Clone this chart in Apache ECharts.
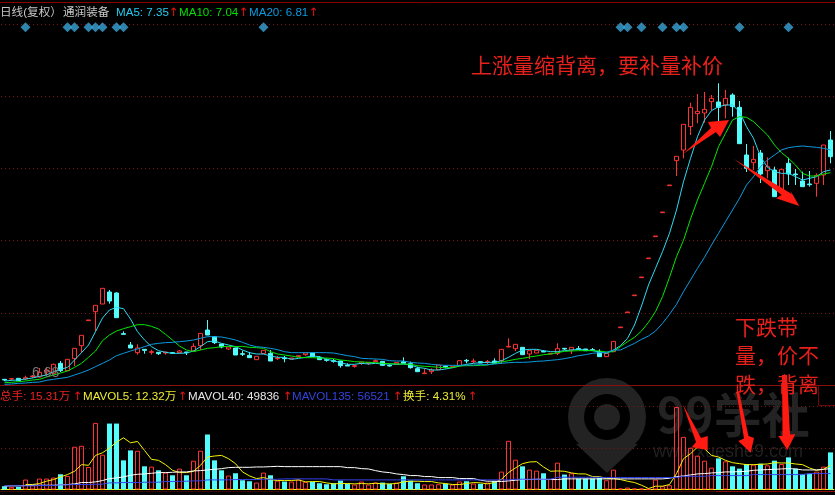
<!DOCTYPE html>
<html><head><meta charset="utf-8">
<style>html,body{margin:0;padding:0;background:#000}#c{width:835px;height:495px}</style>
<script src="https://cdn.jsdelivr.net/npm/echarts@6/dist/echarts.min.js"></script>
</head><body><div id="c"></div>
<script>
// [open, close, low, high]
const candles = [
[.17,.15,.12,.18],[.18,.19,.12,.19],[.20,.13,.13,.20],[.18,.22,.15,.28],[.255,.27,.21,.30],[.24,.38,.22,.51],[.39,.45,.30,.53],[.35,.62,.33,.64],[.65,.43,.39,.72],[.43,.77,.43,.77],
[.79,1.10,.57,1.10],[1.18,1.49,.96,1.49],[1.93,1.95,1.93,1.95],[2.20,2.39,1.60,2.39],[2.43,2.90,2.43,2.90],[2.79,2.52,2.44,2.85],[2.76,2.02,2.02,2.78],[1.54,1.52,1.52,1.61],[1.20,1.11,1.11,1.29],[.97,1.11,.91,1.22],
[1.07,1.04,.94,1.07],[.98,1.00,.91,1.06],[.98,.94,.90,.98],[.96,.99,.91,.99],[.97,.95,.95,.99],[.97,1.02,.97,1.05],[.99,.97,.90,.99],[1.02,1.16,1.02,1.25],[1.18,1.55,1.05,1.55],[1.65,1.50,1.50,1.95],
[1.45,1.27,1.23,1.45],[1.23,1.14,1.10,1.23],[1.08,1.14,1.05,1.14],[1.11,.90,.90,1.11],[.94,.92,.87,1.03],[.89,.82,.82,.99],[.76,.86,.76,.86],[.94,1.04,.94,1.04],[.95,.72,.72,1.05],[.79,.81,.75,.87],
[.81,.79,.68,.87],[.78,.81,.78,.81],[.85,.88,.85,.88],[.91,.96,.88,.96],[.96,.85,.85,.96],[.83,.76,.76,.87],[.76,.74,.70,.80],[.73,.71,.67,.78],[.72,.58,.52,.72],[.59,.57,.57,.65],
[.56,.58,.52,.61],[.65,.69,.60,.69],[.65,.68,.60,.68],[.70,.73,.70,.77],[.71,.59,.59,.71],[.59,.57,.55,.62],[.63,.68,.63,.68],[.70,.65,.65,.83],[.64,.52,.49,.70],[.49,.40,.40,.55],
[.34,.36,.34,.50],[.40,.45,.33,.50],[.46,.60,.46,.60],[.56,.54,.50,.59],[.53,.55,.53,.55],[.58,.73,.58,.73],[.74,.72,.65,.78],[.70,.72,.65,.79],[.70,.66,.66,.70],[.68,.70,.63,.75],
[.72,.65,.65,.80],[.73,1.07,.63,1.07],[1.14,1.16,1.14,1.40],[1.09,1.22,1.02,1.22],[1.13,.91,.91,1.13],[.93,1.03,.78,1.03],[.96,1.04,.96,1.04],[1.01,.99,.99,1.05],[.93,.95,.93,.95],[.95,1.09,.90,1.25],
[1.10,1.08,1.05,1.10],[1.05,1.13,.93,1.13],[1.09,1.07,1.07,1.17],[1.08,1.03,1.03,1.08],[1.06,1.04,1.04,1.11],[1.00,.85,.85,1.07],[.85,.95,.85,.95],[1.00,1.31,1.00,1.31],[1.72,1.74,1.72,1.74],[2.17,2.19,2.17,2.19],
[2.68,2.70,2.68,2.70],[3.22,3.24,3.22,3.24],[3.79,3.81,3.79,3.81],[4.45,4.47,4.45,4.47],[5.17,5.19,5.17,5.19],[5.98,6.00,5.98,6.00],[6.73,6.86,6.27,6.86],[7.05,7.82,6.80,7.82],[7.75,8.33,7.50,8.47],[8.14,8.21,7.85,8.73],
[8.16,8.27,7.87,8.79],[8.50,8.60,8.23,8.70],[8.49,8.33,7.90,9.05],[8.40,8.60,8.00,8.85],[8.70,8.35,8.05,8.75],[8.33,7.24,7.24,8.52],[6.90,6.50,6.39,7.23],[6.67,6.77,6.45,7.17],[6.96,6.33,6.06,7.05],[6.43,6.55,6.20,6.83],
[6.45,5.65,5.65,6.55],[5.80,6.47,5.80,6.47],[6.65,6.33,6.00,6.82],[6.33,6.31,6.00,6.48],[6.12,5.95,5.95,6.40],[6.03,6.01,5.95,6.42],[6.05,6.29,5.65,6.35],[6.30,7.20,6.00,7.20],[7.35,6.85,6.65,7.62]
];
const ma5 = [
.12,.14,.15,.18,.21,.26,.30,.40,.47,.53,
.75,.97,1.2,1.6,2.01,2.25,2.33,2.29,1.98,1.6,
1.35,1.15,1.03,.98,.95,.95,.96,1.02,1.15,1.3,
1.32,1.25,1.2,1.15,1.05,.97,.93,.93,.87,.83,
.83,.77,.80,.83,.87,.85,.77,.73,.67,.62,
.62,.65,.63,.65,.63,.63,.62,.63,.60,.53,
.50,.45,.45,.48,.52,.57,.62,.65,.67,.68,
.68,.73,.83,.95,1.05,1.07,1.07,1.03,1.0,1.0,
1.03,1.05,1.07,1.05,1.03,.99,.95,1.05,1.18,1.40,
1.80,2.37,3.0,3.50,4.0,4.55,5.25,6.10,6.80,7.45,
7.95,8.23,8.35,8.40,8.40,8.20,7.75,7.40,6.85,6.53,
6.40,6.35,6.35,6.25,6.15,6.20,6.25,6.40,6.45];
const ma10 = [
.07,.08,.10,.12,.15,.17,.24,.30,.36,.42,
.53,.65,.83,1.02,1.33,1.50,1.62,1.69,1.75,1.81,
1.81,1.76,1.68,1.52,1.35,1.17,1.05,1.0,1.05,1.10,
1.12,1.15,1.16,1.15,1.16,1.13,1.12,1.10,1.0,.93,
.90,.87,.83,.82,.82,.81,.81,.79,.75,.73,
.70,.69,.68,.67,.65,.64,.63,.63,.62,.58,
.56,.55,.53,.52,.52,.57,.58,.58,.59,.60,
.65,.69,.73,.77,.80,.84,.87,.91,.93,.97,
1.01,1.02,1.03,1.03,1.03,1.02,.99,1.0,1.15,1.30,
1.43,1.62,1.88,2.20,2.65,3.23,3.85,4.34,4.98,5.55,
6.05,6.55,7.15,7.55,7.95,8.05,8.03,7.90,7.70,7.50,
7.20,6.97,6.80,6.60,6.35,6.27,6.27,6.33,6.37];
const ma20 = [
.02,.03,.05,.06,.08,.09,.14,.17,.20,.23,
.30,.37,.45,.55,.65,.75,.88,.95,1.02,1.08,
1.15,1.22,1.25,1.27,1.28,1.30,1.32,1.35,1.40,1.45,
1.45,1.44,1.40,1.35,1.28,1.20,1.15,1.13,1.10,1.06,
1.0,.97,.97,.97,.97,.97,.97,.96,.92,.88,
.85,.80,.79,.78,.77,.73,.72,.72,.68,.66,
.65,.62,.60,.59,.59,.59,.60,.60,.61,.61,
.63,.65,.67,.68,.68,.69,.71,.72,.74,.76,
.79,.83,.88,.91,.95,.97,.98,1.05,1.05,1.15,
1.25,1.37,1.47,1.62,1.85,2.12,2.42,2.80,3.15,3.50,
3.83,4.20,4.55,4.90,5.25,5.60,6.0,6.25,6.55,6.75,
6.90,7.05,7.12,7.15,7.17,7.15,7.13,7.10,7.05];
const volume = [
1.33,1.07,1.07,4.0,1.73,4.4,4.4,4.8,6.13,5.47,
17.2,17.6,9.07,26.8,14.0,26.53,26.53,11.73,15.73,15.6,
9.33,9.2,7.73,6.8,5.73,8.4,5.73,11.6,15.6,22.13,
11.73,7.73,5.6,6.53,3.73,3.33,2.8,6.8,5.73,3.6,
3.2,3.2,4.0,3.07,3.07,2.53,2.13,2.53,3.6,2.4,
2.0,3.2,2.0,2.8,2.8,2.27,2.8,5.33,3.6,2.53,
2.0,2.0,2.13,2.4,2.0,3.2,3.33,2.4,2.27,2.8,
3.47,7.2,19.6,12.0,9.33,8.0,7.6,6.53,4.27,10.8,
6.0,6.53,4.4,4.4,4.4,4.67,3.73,8.0,.4,.8,
.4,.4,.27,4.0,1.33,1.73,33.2,21.2,16.8,13.6,
11.6,8.8,12.53,11.33,9.33,8.4,10.27,10.0,10.4,9.73,
11.6,10.27,12.93,8.4,6.27,6.4,7.2,9.2,14.93];
const mavol5 = [
null,null,null,2.0,2.0,2.4,3.33,4.0,5.07,6.0,
7.33,10.0,9.73,13.73,14.8,16.67,19.07,20.8,18.8,19.33,
15.73,12.13,11.73,10.0,7.73,6.8,6.8,7.33,9.73,13.07,
13.47,13.73,12.4,10.4,7.07,5.47,4.4,4.8,4.0,3.6,
3.6,3.6,3.87,3.07,3.2,3.2,2.67,2.27,2.4,2.4,
2.27,2.4,2.27,2.53,2.27,2.27,2.4,3.07,3.33,3.33,
3.2,3.2,2.67,2.4,2.0,2.0,2.4,2.8,2.67,2.27,
2.8,4.13,6.8,8.67,10.4,11.07,11.2,9.07,7.33,7.47,
7.33,6.67,6.27,6.27,5.2,5.2,4.4,4.4,4.0,3.33,
2.8,1.73,.4,1.33,1.33,2.0,6.4,12.4,14.4,17.07,
16.4,13.73,13.07,11.73,10.8,10.4,10.0,10.0,10.13,10.27,
10.8,10.67,10.67,10.27,10.0,8.67,7.73,8.13,9.73];
const mavol40 = [
1.33,1.47,1.47,1.6,1.73,1.73,1.73,1.73,1.87,2.0,
2.27,2.8,2.8,3.07,3.6,4.4,4.67,5.07,5.73,6.13,
6.27,6.53,6.8,6.8,6.93,7.07,7.07,7.47,7.6,7.87,
8.13,8.4,8.8,8.93,8.93,8.93,9.07,9.07,9.2,9.33,
9.2,9.2,9.2,9.2,9.2,9.2,9.2,9.2,9.2,8.8,
8.8,8.4,8.27,7.6,7.07,6.8,6.27,6.0,5.6,5.6,
5.2,5.2,4.8,4.8,4.8,4.4,4.4,4.4,3.73,3.33,
3.33,3.2,3.47,3.73,4.0,4.0,4.13,4.13,4.0,4.0,
4.27,4.27,4.27,4.27,4.27,4.27,4.27,4.27,4.27,4.27,
4.27,4.27,4.27,4.27,4.27,4.53,5.2,5.47,5.87,6.27,
6.4,6.67,6.8,7.07,7.07,7.2,7.33,7.73,7.87,8.0,
8.13,8.27,8.4,8.27,7.87,7.87,7.87,8.13,8.4];
const mavol135 = [
1.47,1.47,1.47,1.47,1.47,1.6,1.6,1.6,1.87,1.87,
2.0,2.0,2.0,2.13,2.13,2.67,2.67,2.8,2.8,2.8,
2.93,2.93,2.93,3.2,3.2,3.33,3.33,3.47,3.47,3.87,
3.87,3.87,3.87,4.0,4.0,4.0,4.0,4.13,4.13,4.13,
4.27,4.27,4.27,4.27,4.27,4.27,4.27,3.87,3.87,3.87,
3.87,3.87,3.87,3.87,3.87,3.87,3.87,3.87,3.87,3.87,
3.87,3.87,3.87,3.87,3.87,3.87,3.87,3.87,3.87,3.87,
3.87,3.87,3.87,4.13,4.13,4.13,4.13,4.13,4.13,4.93,
4.93,4.93,4.93,4.93,4.93,4.93,4.8,4.8,4.8,4.8,
4.8,4.8,4.8,4.8,4.8,4.8,4.8,5.33,5.33,5.33,
5.33,5.6,5.6,5.6,5.6,5.6,5.6,6.0,6.0,6.0,
6.0,6.0,6.0,6.0,6.0,6.4,6.4,6.4,6.4];
const signalIdx = [3,9,10,12,13,14,16,17,37,88,89,91,94,96,97,105,112];
const signalPrice = 10.73;
const categories = candles.map((_, i) => 'D' + (i + 1));

const RED = '#ff3333', CYAN = '#54fcfc', GRID = '#7a1414', FONT = '"Liberation Sans","Noto Sans CJK SC",sans-serif';
const headTop = [
  ['日线(复权）', 0, '#c8c8c8'], ['通润装备', 63, '#c8c8c8'],
  ['MA5: 7.35', 116, '#22ccee'], ['↑', 169, '#ee1111'],
  ['MA10: 7.04', 179, '#00e000'], ['↑', 239, '#ee1111'],
  ['MA20: 6.81', 249, '#0a9be0'], ['↑', 309, '#ee1111']
];
const headVol = [
  ['总手: 15.31万', 0, '#ee2222'], ['↑', 73, '#ee1111'],
  ['MAVOL5: 12.32万', 83, '#eeee33'], ['↑', 178, '#ee1111'],
  ['MAVOL40: 49836', 188, '#e8e8e8'], ['↑', 283, '#ee1111'],
  ['MAVOL135: 56521', 292, '#3344dd'], ['↑', 393, '#ee1111'],
  ['换手: 4.31%', 403, '#eeee33'], ['↑', 468, '#ee1111']
];
const notes = [
  ['上涨量缩背离，要补量补价', 471, 67], ['下跌带', 735, 329], ['量，价不', 735, 357], ['跌，背离', 735, 386]
];
const arrows = [
  [[683,154],[711,128],[708,122],[729,120],[720,137],[716,132]],
  [[734,159],[791.7,194],[790,190],[799.3,206],[776,198.3],[781.7,195]],
  [[682.7,404],[701,438],[707.7,436],[707.7,450],[691.7,447.3],[696,442]],
  [[736.5,392],[739,392],[748.5,436],[754,438],[750.7,452.7],[738.3,441],[744,438.5]],
  [[782,375],[787,375],[790,434.5],[795.3,434.3],[787.3,450],[778.3,436],[782.5,436]]
];
const txt = (t, x, y, c, size, z) => ({type:'text', silent:true, z:z||50, style:{text:t, x, y, fill:c,
  font:`${size||11.6}px ${t === '↑' ? '"DejaVu Sans"' : FONT}`, verticalAlign:'middle', align:'left'}});
const seg = (x1, y1, x2, y2, c) => ({type:'line', silent:true, z:40, shape:{x1, y1, x2, y2}, style:{stroke:c, lineWidth:1}});
const WM = '#232323';
const graphic = [
  // watermark, under the marks
  {type:'circle', silent:true, z:-5, shape:{cx:607, cy:417, r:31}, style:{fill:'none', stroke:WM, lineWidth:16}},
  {type:'circle', silent:true, z:-5, shape:{cx:607, cy:417, r:13}, style:{fill:WM}},
  {type:'polygon', silent:true, z:-5, shape:{points:[[576,444],[638,444],[607,473]]}, style:{fill:WM}},
  {type:'text', silent:true, z:-5, style:{text:'99学社', x:657, y:415, fill:WM, font:'bold 48px "Noto Sans CJK SC"', verticalAlign:'middle'}},
  {type:'text', silent:true, z:-5, style:{text:'www.xueshe9.com', x:653, y:452, fill:'#202020', font:'18px "Liberation Sans"', verticalAlign:'middle'}},
  seg(0, 2.5, 835, 2.5, '#8a0000'),
  seg(0, 385.5, 835, 385.5, '#8a1010'),
  seg(0, 491.5, 835, 491.5, '#3a0606'),
  seg(716, 491.5, 835, 491.5, '#8a1010'),
  seg(818.5, 386, 818.5, 405.5, '#6a0808'),
  seg(818.5, 405.5, 835, 405.5, '#6a0808'),
  txt('6.68', 32, 373, '#7a7a7a', 14),
  ...headTop.map(h => txt(h[0], h[1], 12.5, h[2])),
  ...headVol.map(h => txt(h[0], h[1], 396.5, h[2])),
  ...arrows.map(a => ({type:'polygon', silent:true, z:45, shape:{points:a}, style:{fill:'#ff1a12'}})),
  ...notes.map(n => txt(n[0], n[1], n[2], '#e6201a', 21, 60))
];
const maLine = (name, data, color, x, y) => ({name, type:'line', data, xAxisIndex:x, yAxisIndex:y, symbol:'none', z:5,
  lineStyle:{color, width:1}, itemStyle:{color}, connectNulls:false});
const isUp = c => c[1] >= c[0];
const chart = echarts.init(document.getElementById('c'), null, {renderer:'canvas'});
chart.setOption({
  backgroundColor:'#000', animation:false,
  grid:[{left:1, width:833, top:24, height:361}, {left:1, width:833, top:406, height:83.5}],
  xAxis:[
    {type:'category', data:categories, gridIndex:0, axisLine:{show:false}, axisTick:{show:false}, axisLabel:{show:false}, splitLine:{show:false}},
    {type:'category', data:categories, gridIndex:1, axisLine:{show:true, lineStyle:{color:'#ffff00', width:1}}, axisTick:{show:false}, axisLabel:{show:false}, splitLine:{show:false}}
  ],
  yAxis:[
    {type:'value', gridIndex:0, min:0, max:10.83, interval:2.166, axisLine:{show:false}, axisTick:{show:false}, axisLabel:{show:false},
     splitLine:{show:true, lineStyle:{color:GRID, type:[1,3], width:1}}},
    {type:'value', gridIndex:1, min:0, max:33.6, interval:16.8, axisLine:{show:false}, axisTick:{show:false}, axisLabel:{show:false},
     splitLine:{show:true, lineStyle:{color:GRID, type:[1,3], width:1}}}
  ],
  series:[
    {name:'K', type:'candlestick', data:candles, xAxisIndex:0, yAxisIndex:0, barWidth:5, z:3,
     itemStyle:{color:'#000', color0:CYAN, borderColor:RED, borderColor0:CYAN, borderWidth:1}},
    maLine('MA5', ma5, '#2adcf4', 0, 0), maLine('MA10', ma10, '#00e800', 0, 0), maLine('MA20', ma20, '#0a9be0', 0, 0),
    {name:'signal', type:'scatter', data:signalIdx.map(i => [i, signalPrice]), xAxisIndex:0, yAxisIndex:0, symbol:'diamond', symbolSize:10, z:4,
     itemStyle:{color:'#3aa5d8'}},
    {name:'总手', type:'bar', xAxisIndex:1, yAxisIndex:1, barWidth:5, z:3,
     data:volume.map((v, i) => ({value:v, itemStyle: isUp(candles[i])
       ? {color:'rgba(0,0,0,0)', borderColor:RED, borderWidth:1}
       : {color:CYAN, borderColor:CYAN, borderWidth:0}}))},
    maLine('MAVOL5', mavol5, '#f5f500', 1, 1), maLine('MAVOL40', mavol40, '#ffffff', 1, 1), maLine('MAVOL135', mavol135, '#3344ee', 1, 1)
  ],
  graphic
});
</script></body></html>
